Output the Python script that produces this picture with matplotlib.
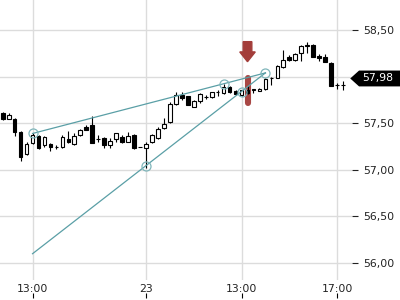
"""
15분봉 캔들 차트 + 추세선 두 개, 선택 캔들 강조 표시
"""

import matplotlib
matplotlib.use('Agg')
import matplotlib.pyplot as plt
from matplotlib.patches import FancyArrow, Polygon

plt.rcParams['font.family'] = 'DejaVu Sans'

# 캔들 데이터 (15분봉)
opens = [57.61, 57.54, 57.55, 57.41, 57.17, 57.29, 57.36, 57.27, 57.28, 57.25,
         57.24, 57.33, 57.28, 57.37, 57.46, 57.48, 57.33, 57.34, 57.27, 57.33,
         57.35, 57.30, 57.37, 57.24, 57.23, 57.30, 57.34, 57.45, 57.51, 57.71,
         57.80, 57.79, 57.67, 57.74, 57.78, 57.78, 57.83, 57.82, 57.89, 57.85,
         57.80, 57.86, 57.86, 57.85, 57.87, 57.98, 57.99, 58.10, 58.21, 58.18,
         58.25, 58.33, 58.34, 58.22, 58.21, 58.15, 57.91, 57.91]
highs = [57.62, 57.61, 57.56, 57.42, 57.30, 57.39, 57.37, 57.36, 57.29, 57.27,
         57.37, 57.42, 57.40, 57.44, 57.48, 57.58, 57.37, 57.35, 57.34, 57.40,
         57.37, 57.41, 57.38, 57.24, 57.30, 57.38, 57.46, 57.56, 57.73, 57.83,
         57.84, 57.79, 57.75, 57.82, 57.80, 57.84, 57.86, 57.92, 57.90, 57.86,
         57.86, 57.90, 57.86, 57.88, 57.98, 58.00, 58.12, 58.29, 58.23, 58.25,
         58.34, 58.37, 58.35, 58.24, 58.24, 58.16, 57.93, 57.95]
lows = [57.53, 57.54, 57.36, 57.10, 57.16, 57.28, 57.22, 57.25, 57.20, 57.22,
        57.23, 57.29, 57.27, 57.36, 57.43, 57.29, 57.30, 57.23, 57.23, 57.30,
        57.29, 57.30, 57.22, 57.24, 57.02, 57.29, 57.33, 57.44, 57.50, 57.70,
        57.75, 57.70, 57.67, 57.72, 57.76, 57.77, 57.79, 57.81, 57.82, 57.80,
        57.79, 57.81, 57.82, 57.85, 57.86, 57.91, 57.98, 58.09, 58.17, 58.17,
        58.17, 58.25, 58.21, 58.17, 58.16, 57.90, 57.87, 57.86]
closes = [57.54, 57.59, 57.41, 57.14, 57.28, 57.37, 57.23, 57.35, 57.24, 57.24,
          57.35, 57.30, 57.36, 57.43, 57.43, 57.29, 57.33, 57.27, 57.31, 57.39,
          57.30, 57.36, 57.23, 57.24, 57.28, 57.37, 57.44, 57.49, 57.71, 57.80,
          57.77, 57.70, 57.74, 57.81, 57.78, 57.83, 57.84, 57.89, 57.83, 57.81,
          57.86, 57.82, 57.86, 57.87, 57.97, 57.98, 58.11, 58.18, 58.18, 58.24,
          58.33, 58.33, 58.21, 58.20, 58.16, 57.90, 57.91, 57.91]

# x축 눈금 (캔들 인덱스 기준)
xtick_pos = [5, 24, 40, 56]
xtick_labels = ['13:00', '23', '13:00', '17:00']
ytick_vals = [56.0, 56.5, 57.0, 57.5, 58.0, 58.5]

# 추세선 (캔들 인덱스, 가격)
upper_line_x = [5, 44]
upper_line_y = [57.39, 58.04]
lower_line_x = [5, 44]
lower_line_y = [56.10, 58.04]
anchor_x = [5, 37, 44, 24, 40]
anchor_y = [57.39, 57.925, 58.04, 57.045, 57.84]

# 강조 캔들, 현재가
marked_idx = 41
marked_range = [57.72, 57.99]
last_price = 57.98

TEAL = '#5a9fa6'
RED = '#a33d3a'


def draw_candles(ax):
    """캔들 그리기: 상승 = 흰색 몸통, 하락 = 검정 몸통"""
    idx = list(range(len(opens)))
    ax.vlines(idx, lows, highs, color='black', linewidth=0.8, zorder=3)
    for i in idx:
        o, c = opens[i], closes[i]
        bottom = min(o, c)
        height = max(abs(c - o), 0.004)
        face = 'white' if c >= o else 'black'
        ax.bar(i, height, bottom=bottom, width=0.62, color=face,
               edgecolor='black', linewidth=0.8, zorder=4)


def main():
    fig = plt.figure(figsize=(4, 3), dpi=100)
    ax = fig.add_axes([0.0, 20 / 300, 352 / 400, 280 / 300])

    ax.set_xlim(-0.45, 58.5)
    ax.set_ylim(55.818, 58.822)

    # 강조 막대 (캔들 뒤)
    ax.plot([marked_idx, marked_idx], marked_range, color=RED, linewidth=4.4,
            solid_capstyle='round', alpha=0.95, zorder=2)

    draw_candles(ax)

    # 추세선 + 앵커 원
    ax.plot(upper_line_x, upper_line_y, color=TEAL, linewidth=0.9, zorder=5)
    ax.plot(lower_line_x, lower_line_y, color=TEAL, linewidth=0.9, zorder=5)
    ax.plot(anchor_x, anchor_y, linestyle='none', marker='o', markersize=6.5,
            markerfacecolor='none', markeredgecolor='#7fb5ba',
            markeredgewidth=0.9, zorder=6)

    # 빨간 아래 화살표
    arrow = FancyArrow(marked_idx, 58.375, 0, -0.215, width=1.45,
                       head_width=2.6, head_length=0.105,
                       length_includes_head=True, color=RED, zorder=6)
    ax.add_patch(arrow)

    # 격자, 축
    for s in ax.spines.values():
        s.set_visible(False)
    ax.set_axisbelow(True)
    ax.grid(True, color='#dcdcdc', linewidth=1.0)

    ax.yaxis.tick_right()
    ax.set_yticks(ytick_vals)
    ax.set_yticklabels([f'{v:.2f}'.replace('.', ',') for v in ytick_vals])
    ax.tick_params(axis='y', length=4, width=0.8, pad=4, labelsize=7.8,
                   colors='#222222')

    ax.set_xticks(xtick_pos)
    ax.set_xticklabels(xtick_labels)
    ax.tick_params(axis='x', length=0, pad=3, labelsize=7.8, colors='#222222')

    # x축 아래쪽 작은 눈금
    sec = ax.secondary_xaxis(-0.065)
    sec.set_xticks(xtick_pos)
    sec.set_xticklabels([])
    sec.tick_params(axis='x', direction='in', length=3.5, width=0.8)
    sec.spines['bottom'].set_visible(False)

    # 현재가 태그
    tr = ax.get_yaxis_transform()
    h = 0.085
    tag = Polygon([[0.995, last_price], [1.02, last_price + h], [1.14, last_price + h],
                   [1.14, last_price - h], [1.02, last_price - h]],
                  closed=True, transform=tr, facecolor='black', edgecolor='none',
                  clip_on=False, zorder=10)
    ax.add_patch(tag)
    ax.text(1.03, last_price, f'{last_price:.2f}'.replace('.', ','), transform=tr,
            color='white', fontsize=7.8, va='center', ha='left', zorder=11,
            clip_on=False)

    fig.savefig('out.png', dpi=100)


if __name__ == '__main__':
    main()
